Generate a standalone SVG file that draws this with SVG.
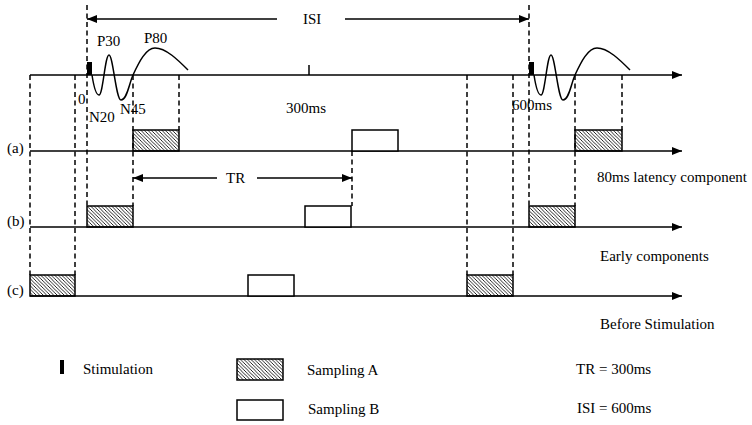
<svg xmlns="http://www.w3.org/2000/svg" width="752" height="425" viewBox="0 0 752 425">
<defs>
<pattern id="hatch" patternUnits="userSpaceOnUse" width="3.5" height="3.5">
<path d="M-1,-1 L4.5,4.5 M-1,2.5 L1,4.5 M2.5,-1 L4.5,1" stroke="#000" stroke-width="0.85"/>
</pattern>
<marker id="arr" viewBox="0 0 10 8" refX="10" refY="4" markerWidth="10" markerHeight="8" markerUnits="userSpaceOnUse" orient="auto">
<path d="M0,0 L10,4 L0,8 Z" fill="#000"/>
</marker>
<marker id="arrS" viewBox="0 0 10 8" refX="0" refY="4" markerWidth="10" markerHeight="8" markerUnits="userSpaceOnUse" orient="auto">
<path d="M10,0 L0,4 L10,8 Z" fill="#000"/>
</marker>
</defs>
<style>
text{font-family:"Liberation Serif","Times New Roman",serif;font-size:15px;fill:#000}
.axis{stroke:#000;stroke-width:1.5;fill:none}
.dash{stroke:#000;stroke-width:1.5;stroke-dasharray:5,3.5;fill:none}
.hb{fill:url(#hatch);stroke:#000;stroke-width:1.5}
.wb{fill:#fff;stroke:#000;stroke-width:1.5}
.wave{stroke:#000;stroke-width:1.5;fill:none}
.stim{fill:#000}
</style>
<rect width="752" height="425" fill="#fff"/>

<g id="connectors">
<line class="dash" x1="30" y1="75" x2="30" y2="275"/>
<line class="dash" x1="75" y1="75" x2="75" y2="275"/>
<line class="dash" x1="87" y1="5" x2="87" y2="206"/>
<line class="dash" x1="133" y1="75" x2="133" y2="206"/>
<line class="dash" x1="179" y1="75" x2="179" y2="130"/>
<line class="dash" x1="352" y1="151" x2="352" y2="206"/>
<line class="dash" x1="467" y1="75" x2="467" y2="275"/>
<line class="dash" x1="513" y1="75" x2="513" y2="275"/>
<line class="dash" x1="529" y1="5" x2="529" y2="206"/>
<line class="dash" x1="575" y1="75" x2="575" y2="206"/>
<line class="dash" x1="622" y1="75" x2="622" y2="130"/>
<line class="axis" x1="30" y1="75" x2="682" y2="75" marker-end="url(#arr)"/>
<line class="axis" x1="30" y1="151" x2="682" y2="151" marker-end="url(#arr)"/>
<line class="axis" x1="30" y1="227" x2="682" y2="227" marker-end="url(#arr)"/>
<line class="axis" x1="30" y1="296" x2="682" y2="296" marker-end="url(#arr)"/>
<line class="axis" x1="309" y1="65" x2="309" y2="75"/>
<line class="axis" x1="87" y1="19" x2="277" y2="19" marker-start="url(#arrS)"/>
<line class="axis" x1="345" y1="19" x2="529" y2="19" marker-end="url(#arr)"/>
<line class="axis" x1="133" y1="178" x2="217" y2="178" marker-start="url(#arrS)"/>
<line class="axis" x1="257" y1="178" x2="352" y2="178" marker-end="url(#arr)"/>
</g>

<g id="waves">
<rect class="stim" x="87" y="62" width="5" height="13"/>
<path class="wave" d="M92,75 C94,88 96,95 99,95 C103,95 105,55 109,55 C113,55 116,100 121,100 C127,100 129,84 133,75 C139,62 146,48 155,48 C166,48 178,60 188,70"/>
<rect class="stim" x="529" y="62" width="5" height="13"/>
<path class="wave" transform="translate(442,0)" d="M92,75 C94,88 96,95 99,95 C103,95 105,55 109,55 C113,55 116,100 121,100 C127,100 129,84 133,75 C139,62 146,48 155,48 C166,48 178,60 188,70"/>
</g>

<g id="row-a">
<rect class="hb" x="133" y="130" width="46" height="21"/>
<rect class="wb" x="352" y="130" width="46" height="21"/>
<rect class="hb" x="575" y="130" width="47" height="21"/>
</g>
<g id="row-b">
<rect class="hb" x="87" y="206" width="46" height="21"/>
<rect class="wb" x="305" y="206" width="46" height="21"/>
<rect class="hb" x="529" y="206" width="46" height="21"/>
</g>
<g id="row-c">
<rect class="hb" x="30" y="275" width="45" height="21"/>
<rect class="wb" x="248" y="275" width="46" height="21"/>
<rect class="hb" x="467" y="275" width="46" height="21"/>
</g>

<g id="labels">
<text x="303" y="24">ISI</text>
<text x="97" y="46">P30</text>
<text x="144" y="43">P80</text>
<text x="78" y="104">0</text>
<text x="89" y="122">N20</text>
<text x="120" y="114">N45</text>
<text x="286" y="113">300ms</text>
<text x="512" y="110">600ms</text>
<text x="226" y="183">TR</text>
<text x="7" y="153">(a)</text>
<text x="7" y="226">(b)</text>
<text x="7" y="295">(c)</text>
<text x="597" y="182">80ms latency component</text>
<text x="600" y="261">Early components</text>
<text x="600" y="329">Before Stimulation</text>
</g>

<g id="legend">
<rect class="stim" x="60" y="360" width="4" height="14"/>
<text x="83" y="374">Stimulation</text>
<rect class="hb" x="237" y="359" width="46" height="21"/>
<text x="307" y="375">Sampling A</text>
<rect class="wb" x="237" y="400" width="46" height="20"/>
<text x="308" y="414">Sampling B</text>
<text x="576" y="374">TR = 300ms</text>
<text x="577" y="413">ISI = 600ms</text>
</g>
</svg>
